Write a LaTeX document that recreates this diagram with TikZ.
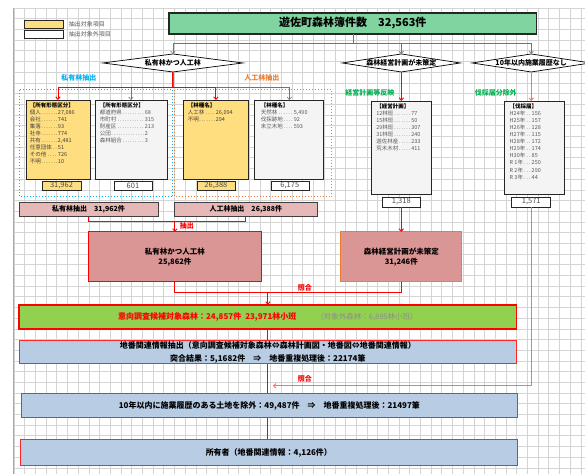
\documentclass[tikz,border=0pt]{standalone}
\usepackage{fontspec}
\setmainfont{Noto Sans CJK JP}
\usetikzlibrary{arrows.meta,shapes.geometric}
\definecolor{titleg}{RGB}{128,212,160}
\definecolor{yel}{RGB}{255,222,128}
\definecolor{gryf}{RGB}{244,244,244}
\definecolor{pinkA}{RGB}{230,184,183}
\definecolor{pinkB}{RGB}{218,150,148}
\definecolor{lime}{RGB}{146,208,80}
\definecolor{ltblue}{RGB}{184,204,228}
\definecolor{skyb}{RGB}{0,176,240}
\definecolor{orng}{RGB}{237,125,49}
\definecolor{grn}{RGB}{0,176,80}
\definecolor{lred}{RGB}{255,110,110}
\definecolor{gridc}{RGB}{212,212,212}
\definecolor{txtg}{RGB}{90,90,90}
\pgfdeclarelayer{bg}\pgfdeclarelayer{conn}\pgfsetlayers{bg,conn,main}
\newcommand\lstit[3]{\makebox[#1][l]{#2\dotfill}#3}
\begin{document}
\begin{tikzpicture}[x=1pt,y=-1pt,
  every node/.style={inner sep=0pt, outer sep=0pt},
  gline/.style={draw=black!55, line width=0.6pt},
  garr/.style={gline, -{Straight Barb[length=2.5pt,width=4.5pt]}},
  rline/.style={draw=red, line width=0.9pt},
  rarr/.style={rline, -{Straight Barb[length=2.5pt,width=4.5pt]}},
  lrline/.style={draw=lred, line width=0.9pt},
  lrarr/.style={lrline, -{Straight Barb[length=2.5pt,width=4.5pt]}},
  dia/.style={diamond, draw=black, line width=0.7pt, fill=white, aspect=7, minimum height=18, font=\fontsize{7}{8}\selectfont\bfseries},
  yelbox/.style={draw=black!85, line width=0.8pt, fill=yel},
  grybox/.style={draw=black!85, line width=0.8pt, fill=gryf},
  valbox/.style={draw=black!85, line width=0.6pt, minimum height=9, font=\fontsize{7.5}{8}\selectfont, text=black!70},
  lst/.style={anchor=north west, align=left, font=\fontsize{5.5}{7.1}\selectfont},
  sect/.style={font=\fontsize{7}{8}\selectfont\bfseries},
  pbar/.style={draw=black!75, line width=0.8pt, fill=pinkA, minimum height=15, font=\fontsize{7}{8}\selectfont\bfseries},
  bigbox/.style={fill=pinkB, line width=0.9pt, minimum height=50, align=center, font=\fontsize{7.5}{10}\selectfont\bfseries},
  bluebar/.style={fill=ltblue, draw=red!85, line width=0.9pt, minimum width=497, align=center, font=\fontsize{8}{13}\selectfont\bfseries},
  rlab/.style={text=red, font=\fontsize{7}{8}\selectfont\bfseries}
]
\begin{pgfonlayer}{bg}
\fill[white] (0,0) rectangle (585,474);
\foreach \i in {0,...,53} \draw[gridc, line width=0.6pt] ({14+10.7*\i},8) -- ({14+10.7*\i},474);
\foreach \j in {0,...,43} \draw[gridc, line width=0.6pt] (14,{8+10.7*\j}) -- (585,{8+10.7*\j});
\draw[black!35, line width=1pt] (14,8) -- (14,474);
\end{pgfonlayer}
\useasboundingbox (0,0) rectangle (585,474);

% legend
\node[draw=black!85, line width=0.6pt, fill=yel, minimum width=39, minimum height=8] (leg1) at (43.5,24) {};
\node[draw=black!85, line width=0.6pt, fill=white, minimum width=39, minimum height=8] (leg2) at (43.5,34) {};
\node[anchor=west, text=txtg, font=\fontsize{6}{7}\selectfont] (leg1t) at (69,24) {抽出対象項目};
\node[anchor=west, text=txtg, font=\fontsize{6}{7}\selectfont] (leg2t) at (69,34) {抽出対象外項目};

% title
\node[draw=black!85, line width=1.2pt, fill=titleg, minimum width=368, minimum height=21, font=\fontsize{11}{12}\selectfont\bfseries] (title) at (353,23.5) {遊佐町森林簿件数\quad 32,563件};

% diamonds
\node[dia, minimum width=140] (d1) at (173,63) {私有林かつ人工林};
\node[dia, minimum width=115] (d2) at (401.5,63) {森林経営計画が未策定};
\node[dia, minimum width=106] (d3) at (531.5,63) {10年以内施業履歴なし};

% section labels
\node[sect, text=skyb] (s1) at (79,78) {私有林抽出};
\node[sect, text=orng] (s2) at (262,78) {人工林抽出};
\node[sect, text=grn] (s3) at (370,93) {経営計画等反映};
\node[sect, text=grn] (s4) at (496,93) {伐採届分除外};

% dotted frames
\draw[skyb, line width=1pt, dotted] (20,90) rectangle (173,197);
\draw[orng, line width=1pt, dotted] (175,90) rectangle (332,197);

% detail boxes
\node[yelbox, minimum width=64, minimum height=79] (b1) at (58,139.5) {};
\node[grybox, minimum width=72, minimum height=79] (b2) at (131,139.5) {};
\node[yelbox, minimum width=66, minimum height=79] (b3) at (216,139.5) {};
\node[grybox, minimum width=69, minimum height=79] (b4) at (289.5,139.5) {};
\node[grybox, minimum width=60, minimum height=93] (b5) at (401.5,147.5) {};
\node[grybox, minimum width=60, minimum height=93] (b6) at (535,147.5) {};

\node[lst, text=black!75] (b1t) at (b1.north west) [xshift=4, yshift=-2.5] {\textbf{\color{black}【所有形態区分】}\\
\lstit{28pt}{個人}{27,086}\\ \lstit{28pt}{会社}{741}\\ \lstit{28pt}{集落}{93}\\ \lstit{28pt}{社寺}{774}\\
\lstit{28pt}{共有}{2,481}\\ \lstit{28pt}{任意団体}{51}\\ \lstit{28pt}{その他}{726}\\ \lstit{28pt}{不明}{10}};
\node[lst, text=txtg] (b2t) at (b2.north west) [xshift=5, yshift=-2.5] {\textbf{\color{black}【所有形態区分】}\\
\lstit{45pt}{都道府県}{68}\\ \lstit{45pt}{市町村}{315}\\ \lstit{45pt}{財産区}{213}\\ \lstit{45pt}{公団}{2}\\ \lstit{45pt}{森林組合}{3}};
\node[lst, text=black!75] (b3t) at (b3.north west) [xshift=5, yshift=-2.5] {\textbf{\color{black}【林種名】}\\
\lstit{28pt}{人工林}{26,094}\\ \lstit{28pt}{不明}{294}};
\node[lst, text=txtg] (b4t) at (b4.north west) [xshift=6, yshift=-2.5] {\textbf{\color{black}【林種名】}\\
\lstit{33pt}{天然林}{5,490}\\ \lstit{33pt}{伐採跡地}{92}\\ \lstit{33pt}{未立木地}{593}};
\node[lst, text=txtg] (b5t) at (b5.north west) [xshift=5, yshift=-2.5] {\textbf{\color{black}【経営計画】}\\
\lstit{35pt}{12林班}{77}\\ \lstit{35pt}{15林班}{50}\\ \lstit{35pt}{29林班}{307}\\ \lstit{35pt}{31林班}{240}\\ \lstit{35pt}{遊佐林産}{233}\\ \lstit{35pt}{荒木木材}{411}};
\node[lst, text=txtg] (b6t) at (b6.north west) [xshift=5, yshift=-2.5] {\textbf{\color{black}【伐採届】}\\
\lstit{22pt}{H24年}{156}\\ \lstit{22pt}{H25年}{157}\\ \lstit{22pt}{H26年}{128}\\ \lstit{22pt}{H27年}{115}\\ \lstit{22pt}{H28年}{172}\\
\lstit{22pt}{H29年}{174}\\ \lstit{22pt}{H30年}{85}\\ \lstit{22pt}{R 1年}{250}\\ \lstit{22pt}{R 2年}{290}\\ \lstit{22pt}{R 3年}{44}};

% value boxes
\node[valbox, fill=yel, minimum width=39] (v1) at (61.5,185.5) {31,962};
\node[valbox, fill=white, minimum width=38] (v2) at (133,185.5) {601};
\node[valbox, fill=yel, minimum width=38] (v3) at (216,185.5) {26,388};
\node[valbox, fill=white, minimum width=38] (v4) at (290,185.5) {6,175};
\node[valbox, fill=white, minimum width=39, minimum height=10] (v5) at (401.5,202) {1,318};
\node[valbox, fill=white, minimum width=39, minimum height=10] (v6) at (531.5,202) {1,571};

% pink bars
\node[pbar, minimum width=139] (p1) at (88.5,209.5) {私有林抽出\quad 31,962件};
\node[pbar, minimum width=144] (p2) at (246,209.5) {人工林抽出\quad 26,388件};

% big boxes
\node[bigbox, draw=red, minimum width=174] (q1) at (175,257) {私有林かつ人工林\\25,862件};
\node[bigbox, draw=orng, minimum width=121] (q2) at (401.5,257) {森林経営計画が未策定\\31,246件};

% green bar
\node[fill=lime, draw=red, line width=1.4pt, minimum width=498, minimum height=24] (g) at (268,317)
  {{\color{red}\fontsize{8}{9}\selectfont\bfseries 意向調査候補対象森林：24,857件\enspace 23,971林小班}\qquad{\color{black!45}\fontsize{7.5}{9}\selectfont （対象外森林：6,895林小班）}};

% blue bars
\node[bluebar, minimum height=23] (bl1) at (268,352.5) {地番関連情報抽出（意向調査候補対象森林⇔森林計画図・地番図⇔地番関連情報）\\突合結果：5,1682件\quad ⇒\quad 地番重複処理後：22174筆};
\node[bluebar, minimum height=24] (bl2) at (269.5,406) {10年以内に施業履歴のある土地を除外：49,487件\quad ⇒\quad 地番重複処理後：21497筆};
\node[bluebar, minimum height=26] (bl3) at (269,453) {所有者（地番関連情報：4,126件）};

% connectors: title to diamonds
\coordinate (t1) at (353,43);
\draw[gline] (title.south) -- (t1);
\draw[garr] (t1) -| (d1.north);
\draw[garr] (t1) -| (d2.north);
\draw[garr] (t1) -| (d3.north);

% diamond 1 to boxes
\coordinate (r1) at (173,87);
\draw[gline] (d1.south) -- (r1);
\draw[garr] (r1) -| (b2.north);
\draw[garr] (r1) -| (b4.north);
\draw[rline] (d1.south) -- (r1);
\draw[rarr] (r1) -| (b1.north);
\draw[rarr] (r1) -| (b3.north);

% diamonds 2,3
\draw[rarr] (d2.south) -- (b5.north -| d2.south);
\draw[lrarr] (d3.south) -- (b6.north -| d3.south);

% extraction merge
\coordinate (j1) at (175,222);
\draw[rline] (p1.south) |- (j1) -| (p2.south);
\draw[rarr] (j1) -- (q1.north);
\node[rlab, anchor=west] (lab1) at (180,226) {抽出};
\draw[rarr] (v5.south) -- (q2.north);

% collation
\coordinate (j2) at (268,293);
\draw[rline] (q1.south) |- (j2);
\draw[rline] (q2.south) |- (j2);
\draw[rarr] (j2) -- (g.north);
\node[rlab] (lab2) at (305,288) {照合};

% long vertical and right line
\begin{pgfonlayer}{conn}
\draw[rline] (g.south) -- (bl3.north -| g.south);
\end{pgfonlayer}
\coordinate (j3) at (531.5,386);
\coordinate (e3) at (273,386);
\draw[lrline] (v6.south) -- (j3);
\draw[lrarr] (j3) -- (e3);
\node[rlab] (lab3) at (305,379) {照合};
\end{tikzpicture}
\end{document}
